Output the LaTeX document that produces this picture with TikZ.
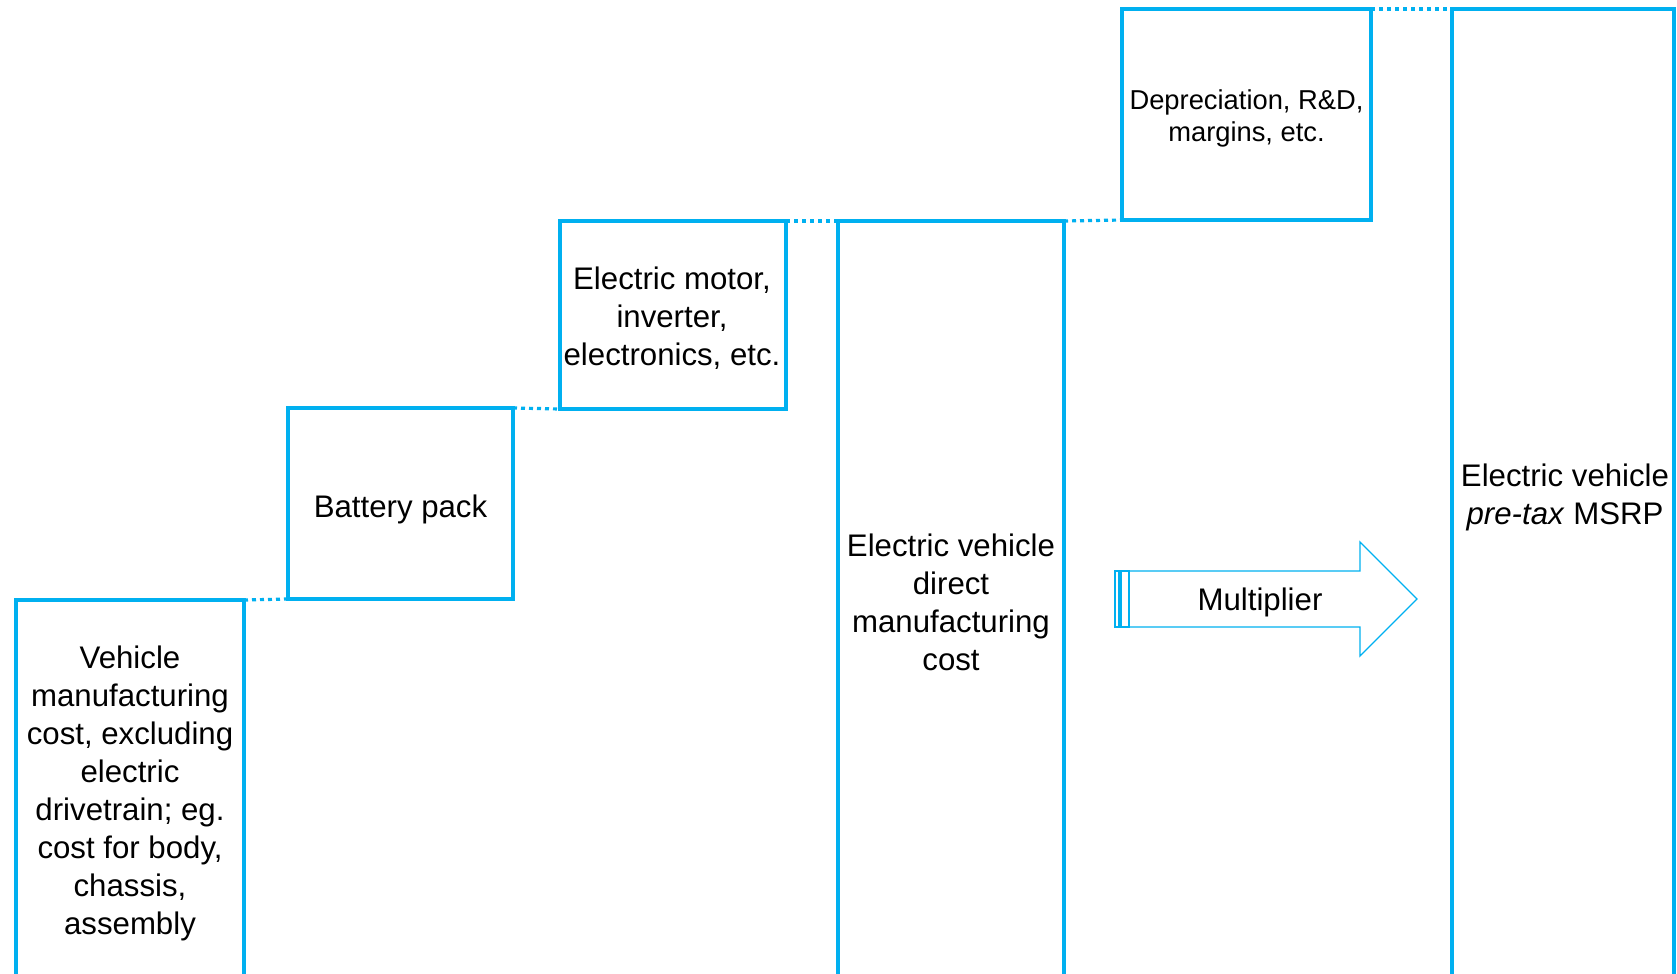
\documentclass[tikz,border=0pt]{standalone}
\usepackage{fontspec}
\setmainfont{Liberation Sans}
\definecolor{cy}{RGB}{0,176,240}
\begin{document}
\begin{tikzpicture}[x=0.75pt,y=-0.75pt,
  box/.style={draw=cy,line width=2.4pt,rectangle,inner sep=0pt,outer sep=0pt,anchor=north west},
  dots/.style={draw=cy,line width=2.4pt,dash pattern=on 3pt off 3pt},
  lbl/.style={align=center,inner sep=0pt,font=\fontsize{23.4}{28.5}\selectfont},
  lbls/.style={align=center,inner sep=0pt,font=\fontsize{20.5}{24}\selectfont},
  arr/.style={draw=cy,line width=1pt,line join=miter}]
\useasboundingbox (0,0) rectangle (1677,974);
\clip (0,0) rectangle (1677,974);
% boxes
\node[box,minimum width=171pt,minimum height=300pt] (b1) at (16,600) {};
\node[box,minimum width=168.75pt,minimum height=143.25pt] (b2) at (288,408) {};
\node[box,minimum width=169.5pt,minimum height=141pt] (b3) at (560,221) {};
\node[box,minimum width=169.5pt,minimum height=584.25pt] (b4) at (838,221) {};
\node[box,minimum width=186.75pt,minimum height=158.25pt] (b5) at (1122,9) {};
\node[box,minimum width=166.5pt,minimum height=743.25pt] (b6) at (1452,9) {};
% dotted links
\draw[dots] (b1.north east) -- (b2.south west);
\draw[dots] (b2.north east) -- (b3.south west);
\draw[dots] (b3.north east) -- (b4.north west);
\draw[dots] (b4.north east) -- (b5.south west);
\draw[dots] (b5.north east) -- (b6.north west);
% texts
\node[lbl] (t1) at (130,793) {Vehicle\\manufacturing\\cost, excluding\\electric\\drivetrain; eg.\\cost for body,\\chassis,\\assembly};
\node[lbl] (t2) at (400.5,509) {Battery pack};
\node[lbl] (t3) at (672,318) {Electric motor,\\inverter,\\electronics, etc.};
\node[lbl] (t4) at (951,602) {Electric vehicle\\direct\\manufacturing\\cost};
\node[lbls] (t5) at (1246.5,118) {Depreciation, R\&D,\\margins, etc.};
\node[lbl] (t6) at (1565,497) {Electric vehicle\\\textit{pre-tax} MSRP};
% multiplier arrow
\draw[arr] (1129,571) -- (1360,571) -- (1360,542) -- (1417,599) -- (1360,656) -- (1360,627) -- (1129,627) -- cycle;
\draw[arr] (1115,571) rectangle (1119,627);
\draw[arr] (1121,571) rectangle (1129,627);
\node[lbl] (tm) at (1260,602) {Multiplier};
\end{tikzpicture}
\end{document}
